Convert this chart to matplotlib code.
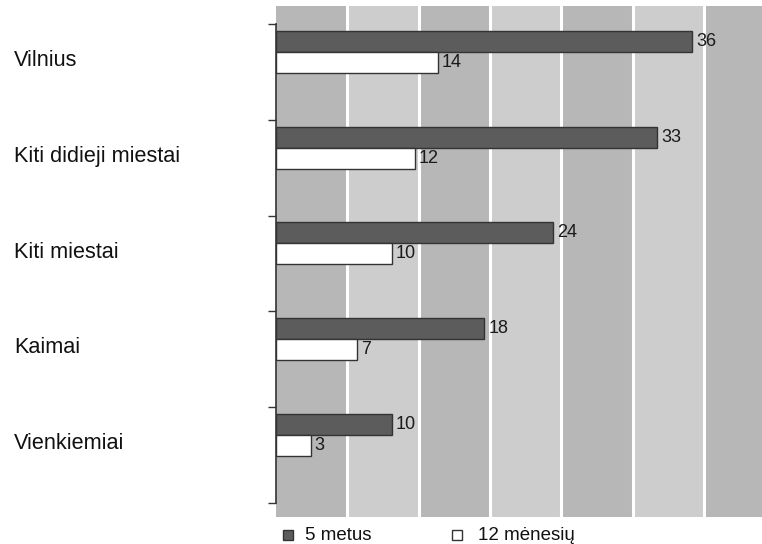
import matplotlib
matplotlib.use("Agg")
import numpy as np
from matplotlib import pyplot as plt
from matplotlib.patches import Rectangle

# data
categories = ["Vilnius", "Kiti didieji miestai", "Kiti miestai", "Kaimai", "Vienkiemiai"]
five_years = [36, 33, 24, 18, 10]
twelve_months = [14, 12, 10, 7, 3]
series_names = ["5 metus", "12 mėnesių"]

plt.rcParams['font.family'] = ['Liberation Sans', 'DejaVu Sans']

W, H = 762, 544
fig = plt.figure(figsize=(W / 100, H / 100), dpi=100)
ax = fig.add_axes([276 / W, 1 - 517 / H, (W - 276) / W, (517 - 6) / H])

x_max = 42.04
band_w = 6.17
ax.set_xlim(0, x_max)
ax.set_ylim(5.146, -0.188)

# alternating background bands with white separators
k = 0
x0 = 0.0
while x0 < x_max:
    col = "#b7b7b7" if k % 2 == 0 else "#cdcdcd"
    ax.axvspan(x0, x0 + band_w, color=col, lw=0, zorder=0)
    if x0 > 0:
        ax.axvline(x0, color="white", lw=2.2, zorder=1)
    x0 += band_w
    k += 1

idx = np.arange(len(categories))
bar_h = 0.22
off = 0.07
dark = ax.barh(idx + off + bar_h / 2, five_years, height=bar_h, color="#5c5c5c",
               edgecolor="#333333", linewidth=1.0, zorder=3)
light = ax.barh(idx + off + bar_h * 1.5, twelve_months, height=bar_h, color="white",
                edgecolor="#333333", linewidth=1.0, zorder=3)

for rects, vals in ((dark, five_years), (light, twelve_months)):
    for r, v in zip(rects, vals):
        ax.text(r.get_width() + 0.35, r.get_y() + r.get_height() / 2, str(v),
                va="center", ha="left", fontsize=13, color="#1a1a1a", zorder=4)

# category labels on the far left
for i, c in enumerate(categories):
    y_fig = ax.transData.transform((0, i + 0.438))[1]
    fig.text(14 / W, y_fig / fig.dpi / fig.get_figheight(), c, fontsize=15.6,
             ha="left", va="baseline", color="#111111")

ax.set_yticks(np.arange(len(categories) + 1))
ax.set_yticklabels([])
ax.set_xticks([])
ax.tick_params(axis="y", direction="out", length=6, width=1, color="#333333")
for s in ["top", "right", "bottom"]:
    ax.spines[s].set_visible(False)
ax.spines["left"].set_bounds(0, len(categories))
ax.spines["left"].set_color("#333333")
ax.spines["left"].set_linewidth(1.2)
ax.spines["left"].set_zorder(5)

# legend below the plot
leg_y = 1 - 535 / H
sq = 10
for xs, xt, fc, name in ((283, 305, "#5c5c5c", series_names[0]),
                          (452, 478, "white", series_names[1])):
    fig.add_artist(Rectangle((xs / W, leg_y - sq / 2 / H), sq / W, sq / H,
                             transform=fig.transFigure, facecolor=fc,
                             edgecolor="#333333", linewidth=1.0))
    fig.text(xt / W, leg_y, name, fontsize=13.5, ha="left", va="center", color="#111111")

fig.savefig("out.png", dpi=100)
